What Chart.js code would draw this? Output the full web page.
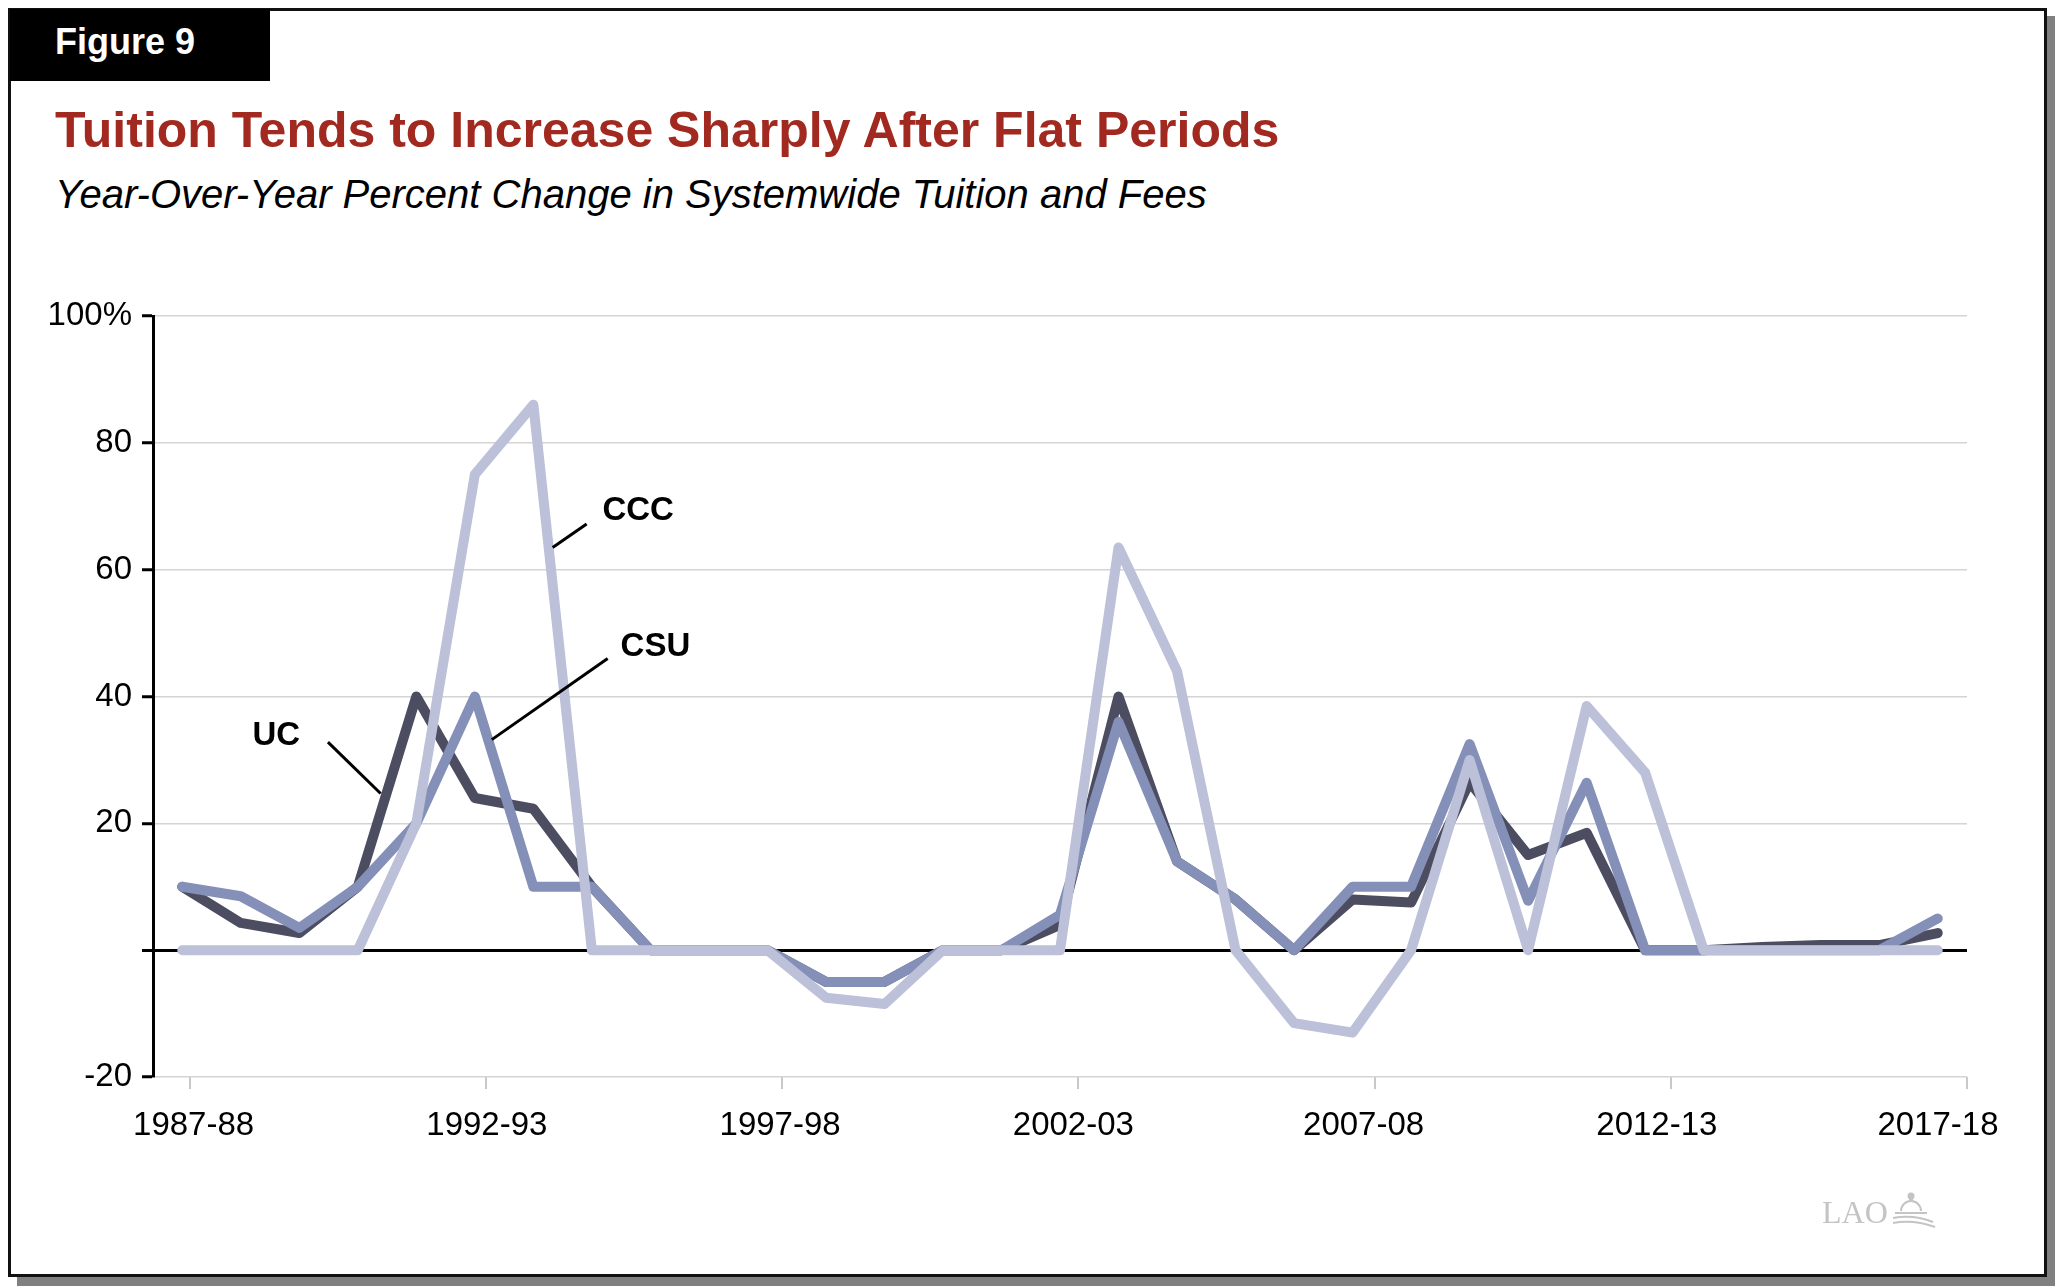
<!DOCTYPE html>
<html>
<head>
<meta charset="utf-8">
<script src="https://cdn.jsdelivr.net/npm/chart.js@4.4.1/dist/chart.umd.min.js"></script>
<style>
  body { margin: 0; background: #fff; }
  #page { position: relative; width: 2055px; height: 1286px; overflow: hidden; font-family: "Liberation Sans", Arial, sans-serif; }
  #shadow { position: absolute; left: 17px; top: 16px; width: 2038px; height: 1270px; background: #808080; }
  #frame { position: absolute; left: 8px; top: 8px; width: 2039px; height: 1269px; box-sizing: border-box; border: 3px solid #111; background: #fff; }
  #figbox { position: absolute; left: 10px; top: 9px; width: 260px; height: 72px; background: #000; }
  .txt { position: absolute; white-space: nowrap; }
  #fig { left: 55px; top: 24px; font-size: 36px; line-height: 36px; font-weight: bold; color: #fff; }
  #title { left: 55px; top: 105px; font-size: 50px; line-height: 50px; font-weight: bold; color: #a1291f; }
  #sub { left: 55px; top: 174px; font-size: 40px; line-height: 40px; font-style: italic; color: #000; }
  #chart { position: absolute; left: 0; top: 0; }
</style>
</head>
<body>
<div id="page">
  <div id="shadow"></div>
  <div id="frame"></div>
  <div id="figbox"></div>
  <div class="txt" id="fig">Figure 9</div>
  <div class="txt" id="title">Tuition Tends to Increase Sharply After Flat Periods</div>
  <div class="txt" id="sub">Year-Over-Year Percent Change in Systemwide Tuition and Fees</div>
  <canvas id="chart" width="2055" height="1286"></canvas>
</div>
<script>
// school years, 1987-88 through 2017-18
const years = [
  "1987-88", "1988-89", "1989-90", "1990-91", "1991-92", "1992-93", "1993-94", "1994-95",
  "1995-96", "1996-97", "1997-98", "1998-99", "1999-00", "2000-01", "2001-02", "2002-03",
  "2003-04", "2004-05", "2005-06", "2006-07", "2007-08", "2008-09", "2009-10", "2010-11",
  "2011-12", "2012-13", "2013-14", "2014-15", "2015-16", "2016-17", "2017-18"
];

// labelled years on the bottom axis
const tickYears = ["1987-88", "1992-93", "1997-98", "2002-03", "2007-08", "2012-13", "2017-18"];

// percent change per year
const ucChange = [10, 4.3, 2.7, 10, 40, 24, 22.3, 10, 0, 0, 0, -5, -5, 0, 0, 4,
  40, 14, 8, 0, 8, 7.5, 26.5, 15, 18.5, 0, 0, 0.5, 0.8, 0.8, 2.7];
const csuChange = [10, 8.5, 3.5, 10, 20, 40, 10, 10, 0, 0, 0, -5, -5, 0, 0, 5.6,
  36, 14, 8, 0, 10, 10, 32.5, 7.8, 26.4, 0, 0, 0, 0, 0, 5];
const cccChange = [0, 0, 0, 0, 20, 75, 86, 0, 0, 0, 0, -7.5, -8.5, 0, 0, 0,
  63.5, 44, 0, -11.5, -13, 0, 30, 0, 38.5, 28, 0, 0, 0, 0, 0];

const seriesNames = ["CCC", "CSU", "UC"];
const seriesColors = ["#bcc0d8", "#8490b8", "#4c4d61"];

// label callouts, placed in data units: [text x, text y, line from x, y, line to x, y]
const callouts = {
  UC:  [1.2, 33.8, 2.49, 32.8, 3.39, 24.7],
  CSU: [7.49, 47.8, 5.29, 33.2, 7.27, 46.0],
  CCC: [7.18, 69.3, 6.33, 63.5, 6.91, 67.2]
};

// the original's year labels drift a little left of their tick marks
const labelShift = [0.013, 0.003, -0.007, -0.017, -0.037, -0.047, -0.098];

const tickFont = { family: "Liberation Sans, Arial, sans-serif", size: 33 };

const calloutPlugin = {
  id: "callouts",
  afterDatasetsDraw(chart) {
    const ctx = chart.ctx;
    const xs = chart.scales.x, ys = chart.scales.y;
    ctx.save();
    ctx.strokeStyle = "#000";
    ctx.lineWidth = 3;
    ctx.fillStyle = "#000";
    ctx.font = "bold 33px Liberation Sans, Arial, sans-serif";
    ctx.textBaseline = "middle";
    ctx.textAlign = "left";
    seriesNames.forEach(name => {
      const c = callouts[name];
      ctx.beginPath();
      ctx.moveTo(xs.getPixelForValue(c[2]), ys.getPixelForValue(c[3]));
      ctx.lineTo(xs.getPixelForValue(c[4]), ys.getPixelForValue(c[5]));
      ctx.stroke();
      ctx.fillText(name, xs.getPixelForValue(c[0]), ys.getPixelForValue(c[1]));
    });

    // LAO mark, bottom right
    ctx.fillStyle = "#c4c4c4";
    ctx.strokeStyle = "#c4c4c4";
    ctx.font = "32px Liberation Serif, Times New Roman, serif";
    ctx.textBaseline = "alphabetic";
    ctx.fillText("LAO", 1822, 1223);
    const dx = 1893;
    ctx.lineWidth = 2;
    ctx.beginPath();
    ctx.arc(dx + 18, 1211, 10, Math.PI, 0);
    ctx.stroke();
    ctx.beginPath();
    ctx.arc(dx + 18, 1196, 3.5, 0, Math.PI * 2);
    ctx.fill();
    ctx.fillRect(dx + 16, 1198, 4, 4);
    ctx.beginPath();
    ctx.moveTo(dx + 2, 1213); ctx.lineTo(dx + 34, 1213);
    ctx.moveTo(dx, 1218); ctx.quadraticCurveTo(dx + 20, 1214, dx + 40, 1222);
    ctx.moveTo(dx, 1223); ctx.quadraticCurveTo(dx + 20, 1219, dx + 42, 1227);
    ctx.stroke();
    ctx.restore();
  }
};

new Chart(document.getElementById("chart"), {
  type: "line",
  plugins: [calloutPlugin],
  data: {
    labels: years,
    datasets: [
      { label: "CCC", data: cccChange, borderColor: seriesColors[0] },
      { label: "CSU", data: csuChange, borderColor: seriesColors[1] },
      { label: "UC", data: ucChange, borderColor: seriesColors[2] }
    ]
  },
  options: {
    responsive: false,
    devicePixelRatio: 1,
    animation: false,
    layout: { padding: { left: 0, right: 88, top: 316, bottom: 143 } },
    plugins: { legend: { display: false }, tooltip: { enabled: false } },
    elements: {
      point: { radius: 0 },
      line: { borderWidth: 10, tension: 0, borderJoinStyle: "round", borderCapStyle: "round" }
    },
    scales: {
      x: { type: "category", offset: true, display: false },
      // tick marks only
      xt: {
        type: "linear",
        position: "bottom",
        min: -0.124,
        max: 6,
        bounds: "data",
        afterBuildTicks: s => { s.ticks = tickYears.map((t, i) => ({ value: i })); },
        ticks: { autoSkip: false, maxRotation: 0, padding: 0, callback: () => "" },
        grid: { drawOnChartArea: false, color: "#c8c8c8", lineWidth: 2, tickLength: 12 },
        border: { display: false },
        afterFit: s => { s.height = 12; }
      },
      // year labels
      xl: {
        type: "linear",
        position: "bottom",
        min: -0.124,
        max: 6,
        bounds: "data",
        afterBuildTicks: s => { s.ticks = tickYears.map((t, i) => ({ value: i + labelShift[i] })); },
        ticks: {
          autoSkip: false,
          maxRotation: 0,
          padding: 17,
          color: "#000",
          font: tickFont,
          callback: (v, i) => tickYears[i]
        },
        grid: { display: false, drawTicks: false },
        border: { display: false },
        afterFit: s => { s.height = 54; }
      },
      y: {
        min: -20,
        max: 100,
        ticks: {
          stepSize: 20,
          padding: 10,
          color: "#000",
          font: tickFont,
          callback: v => v === 100 ? "100%" : (v === 0 ? "" : v)
        },
        grid: {
          color: c => c.tick.value === 0 ? "#000" : "#d4d4d4",
          lineWidth: c => c.tick.value === 0 ? 3 : 1.5,
          tickColor: "#000",
          tickWidth: 3,
          tickLength: 11
        },
        border: { color: "#000", width: 3 },
        afterFit: s => { s.width = 153; }
      }
    }
  }
});
</script>
</body>
</html>
